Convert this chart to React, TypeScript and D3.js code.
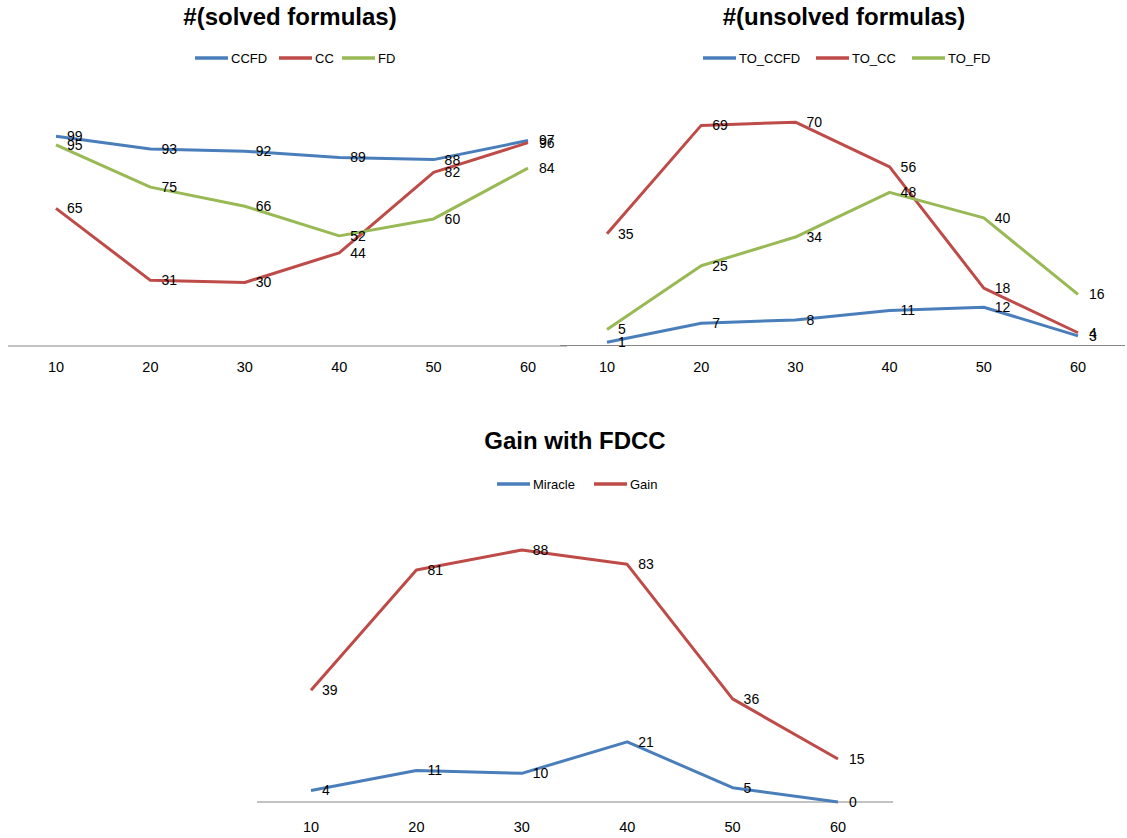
import * as d3 from "d3";

const categories = ["10", "20", "30", "40", "50", "60"];

const solvedNames = ["CCFD", "CC", "FD"];
const solvedCCFD = [99, 93, 92, 89, 88, 97];
const solvedCC = [65, 31, 30, 44, 82, 96];
const solvedFD = [95, 75, 66, 52, 60, 84];

const unsolvedNames = ["TO_CCFD", "TO_CC", "TO_FD"];
const unsolvedCCFD = [1, 7, 8, 11, 12, 3];
const unsolvedCC = [35, 69, 70, 56, 18, 4];
const unsolvedFD = [5, 25, 34, 48, 40, 16];

const gainNames = ["Miracle", "Gain"];
const gainMiracle = [4, 11, 10, 21, 5, 0];
const gainGain = [39, 81, 88, 83, 36, 15];

const BLUE = "#4a7ebb";
const RED = "#be4b48";
const GREEN = "#98b954";
const FONT = "'Liberation Sans', Arial, sans-serif";

type Series = { name: string; values: number[]; color: string };

type ChartProps = {
  title: string;
  titleX: number;
  titleY: number;
  legendY: number;
  legendX: number[];
  series: Series[];
  xRange: [number, number];
  axisRange: [number, number];
  baseline: number;
  yMax: number;
  yTop: number;
  tickY: number;
};

function LineChart(p: ChartProps) {
  const x = d3.scalePoint<string>().domain(categories).range(p.xRange);
  const y = d3.scaleLinear().domain([0, p.yMax]).range([p.baseline, p.yTop]);
  const line = d3
    .line<number>()
    .x((_, i) => x(categories[i]) ?? 0)
    .y((d) => y(d));

  return (
    <g>
      <text
        x={p.titleX}
        y={p.titleY}
        textAnchor="middle"
        fontSize={24}
        fontWeight="bold"
        fill="#000"
      >
        {p.title}
      </text>
      {p.series.map((s, i) => (
        <g key={s.name} transform={`translate(${p.legendX[i]},${p.legendY})`}>
          <line x1={0} x2={33} y1={0} y2={0} stroke={s.color} strokeWidth={3.5} />
          <text x={36} y={0} dy="0.35em" fontSize={13} fill="#000">
            {s.name}
          </text>
        </g>
      ))}
      <line
        x1={p.axisRange[0]}
        x2={p.axisRange[1]}
        y1={p.baseline}
        y2={p.baseline}
        stroke="#868686"
        strokeWidth={1}
      />
      {categories.map((c) => (
        <text
          key={c}
          x={x(c)}
          y={p.tickY}
          dy="0.35em"
          textAnchor="middle"
          fontSize={14.5}
          fill="#000"
        >
          {c}
        </text>
      ))}
      {p.series.map((s) => (
        <path
          key={s.name}
          d={line(s.values) ?? ""}
          fill="none"
          stroke={s.color}
          strokeWidth={3}
          strokeLinejoin="round"
        />
      ))}
      {p.series.map((s) =>
        s.values.map((v, i) => (
          <text
            key={`${s.name}-${i}`}
            x={(x(categories[i]) ?? 0) + 11}
            y={y(v)}
            dy="0.35em"
            fontSize={14}
            fill="#000"
          >
            {v}
          </text>
        )),
      )}
    </g>
  );
}

export default function App() {
  return (
    <div style={{ position: "absolute", left: 0, top: 0 }}>
      <svg width={1127} height={838} fontFamily={FONT} style={{ display: "block", background: "#fff" }}>
        <LineChart
          title="#(solved formulas)"
          titleX={290}
          titleY={25}
          legendY={58}
          legendX={[195, 279, 342]}
          series={[
            { name: solvedNames[0], values: solvedCCFD, color: BLUE },
            { name: solvedNames[1], values: solvedCC, color: RED },
            { name: solvedNames[2], values: solvedFD, color: GREEN },
          ]}
          xRange={[56, 528]}
          axisRange={[8, 567]}
          baseline={346}
          yMax={100}
          yTop={346 - 211.8}
          tickY={367}
        />
        <LineChart
          title="#(unsolved formulas)"
          titleX={844}
          titleY={25}
          legendY={58}
          legendX={[703, 816, 912]}
          series={[
            { name: unsolvedNames[0], values: unsolvedCCFD, color: BLUE },
            { name: unsolvedNames[1], values: unsolvedCC, color: RED },
            { name: unsolvedNames[2], values: unsolvedFD, color: GREEN },
          ]}
          xRange={[607, 1078]}
          axisRange={[560, 1125]}
          baseline={345.5}
          yMax={70}
          yTop={345.5 - 223.3}
          tickY={367}
        />
        <LineChart
          title="Gain with FDCC"
          titleX={575}
          titleY={449}
          legendY={484}
          legendX={[497, 594]}
          series={[
            { name: gainNames[0], values: gainMiracle, color: BLUE },
            { name: gainNames[1], values: gainGain, color: RED },
          ]}
          xRange={[311, 838]}
          axisRange={[257, 893]}
          baseline={802}
          yMax={88}
          yTop={802 - 252}
          tickY={827}
        />
      </svg>
    </div>
  );
}
